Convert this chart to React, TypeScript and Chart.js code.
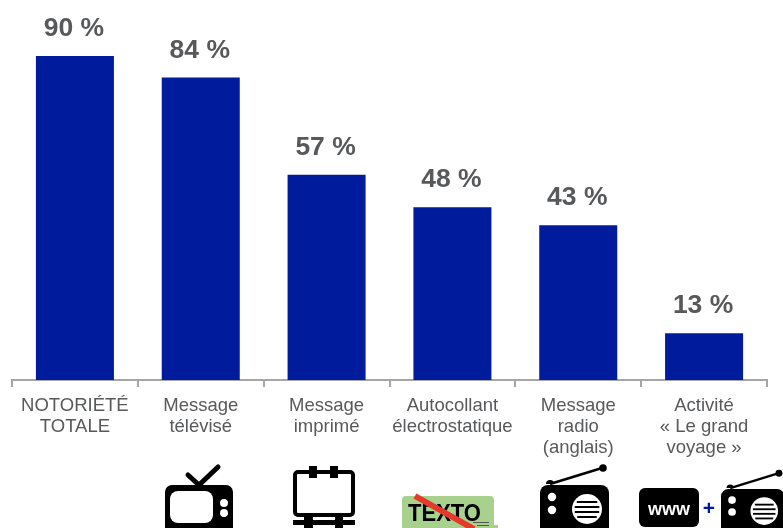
import React, { useEffect, useRef } from "react";
import { Chart, registerables } from "chart.js";

Chart.register(...registerables);

const categories: string[][] = [
  ["NOTORIÉTÉ", "TOTALE"],
  ["Message", "télévisé"],
  ["Message", "imprimé"],
  ["Autocollant", "électrostatique"],
  ["Message", "radio", "(anglais)"],
  ["Activité", "« Le grand", "voyage »"],
];
const values: number[] = [90, 84, 57, 48, 43, 13];
const valueSuffix = " %";

const BAR = "#001C9C";
const TEXT = "#58595B";
const FONT = "'Liberation Sans', Arial, sans-serif";

function rr(c: CanvasRenderingContext2D, x: number, y: number, w: number, h: number, r: number) {
  c.beginPath();
  c.roundRect(x, y, w, h, r);
}

function drawRadio(c: CanvasRenderingContext2D, x: number, y: number, s: number) {
  c.save();
  c.translate(x, y);
  c.scale(s, s);
  c.fillStyle = "#000";
  c.strokeStyle = "#000";
  rr(c, 0, 0, 69, 60, 8);
  c.fill();
  c.lineWidth = 2.6;
  c.beginPath();
  c.moveTo(10, -1);
  c.lineTo(62, -17);
  c.stroke();
  c.beginPath();
  c.arc(63, -17, 3.8, 0, Math.PI * 2);
  c.fill();
  c.beginPath();
  c.arc(10, -1, 4, Math.PI, Math.PI * 2);
  c.fill();
  c.fillStyle = "#fff";
  for (const ky of [12, 25]) {
    c.beginPath();
    c.arc(12, ky, 4.2, 0, Math.PI * 2);
    c.fill();
  }
  c.beginPath();
  c.arc(47, 24, 15, 0, Math.PI * 2);
  c.fill();
  c.fillStyle = "#000";
  for (const dy of [-8, -3, 2, 7]) {
    const half = Math.sqrt(Math.max(0, 12.5 * 12.5 - (dy + 0.8) * (dy + 0.8)));
    c.fillRect(47 - half, 24 + dy, half * 2, 2);
  }
  c.restore();
}

const iconsPlugin = {
  id: "icons",
  afterDraw(chart: any) {
    const c: CanvasRenderingContext2D = chart.ctx;
    c.save();
    // TV
    c.fillStyle = "#000";
    rr(c, 165, 485, 68, 60, 7);
    c.fill();
    c.fillStyle = "#fff";
    rr(c, 170, 491, 43, 32, 8);
    c.fill();
    c.beginPath();
    c.arc(224, 503, 4, 0, Math.PI * 2);
    c.arc(224, 513, 4, 0, Math.PI * 2);
    c.fill();
    c.strokeStyle = "#000";
    c.lineWidth = 5;
    c.lineCap = "round";
    c.beginPath();
    c.moveTo(188, 475);
    c.lineTo(199, 485);
    c.lineTo(218, 467);
    c.stroke();
    c.lineCap = "butt";
    // Billboard
    c.lineWidth = 4;
    rr(c, 295, 472, 58, 43, 3);
    c.stroke();
    c.fillStyle = "#000";
    c.fillRect(309, 466, 8, 12);
    c.fillRect(330, 466, 8, 12);
    c.fillRect(293, 520, 62, 5);
    c.fillRect(304, 516, 9, 12);
    c.fillRect(335, 516, 8, 12);
    // Sticker
    c.fillStyle = "#A9D18E";
    c.beginPath();
    c.roundRect(402, 496, 92, 36, 4);
    c.fill();
    c.fillRect(490, 525, 8, 3);
    c.fillStyle = "#000";
    c.font = `bold 23px ${FONT}`;
    c.textAlign = "left";
    c.textBaseline = "alphabetic";
    c.fillText("TEXTO", 408, 521, 73);
    c.strokeStyle = "#E5392B";
    c.lineWidth = 6;
    c.beginPath();
    c.moveTo(415, 496);
    c.lineTo(474, 529);
    c.stroke();
    c.fillStyle = "#555";
    c.fillRect(473, 522, 16, 1);
    c.fillRect(477, 525, 12, 1);
    // Radios
    drawRadio(c, 540, 485, 1);
    c.fillStyle = "#000";
    rr(c, 639, 488, 60, 39, 6);
    c.fill();
    c.fillStyle = "#fff";
    c.font = `bold 18px ${FONT}`;
    c.textAlign = "center";
    c.textBaseline = "middle";
    c.fillText("www", 669, 510);
    c.fillStyle = BAR;
    c.font = `bold 21px ${FONT}`;
    c.fillText("+", 709, 509);
    drawRadio(c, 721, 489, 0.92);
    c.restore();
  },
};

const valueLabels = {
  id: "valueLabels",
  afterDatasetsDraw(chart: any) {
    const c: CanvasRenderingContext2D = chart.ctx;
    const meta = chart.getDatasetMeta(0);
    c.save();
    c.fillStyle = TEXT;
    c.font = `bold 26.5px ${FONT}`;
    c.textAlign = "center";
    c.textBaseline = "alphabetic";
    meta.data.forEach((bar: any, i: number) => {
      c.fillText(values[i] + valueSuffix, bar.x - 1, bar.y - 20);
    });
    c.restore();
  },
};

export default function App() {
  const ref = useRef<HTMLCanvasElement>(null);
  useEffect(() => {
    document.body.style.margin = "0";
    const chart = new Chart(ref.current!, {
      type: "bar",
      data: {
        labels: categories,
        datasets: [{ data: values, backgroundColor: BAR, barPercentage: 0.62, categoryPercentage: 1 }],
      },
      options: {
        animation: false,
        responsive: false,
        devicePixelRatio: 1,
        layout: { padding: { left: 12, right: 16, top: 20, bottom: 0 } },
        plugins: { legend: { display: false }, tooltip: { enabled: false } },
        scales: {
          x: {
            afterFit: (s: any) => { s.height = 148; },
            border: { color: "#A6A6A6", width: 2 },
            grid: { display: true, drawOnChartArea: false, drawTicks: true, tickLength: 7, color: "#A6A6A6", lineWidth: 2 },
            ticks: {
              color: TEXT,
              autoSkip: false,
              maxRotation: 0,
              padding: 8,
              font: { family: FONT, size: 18.5, lineHeight: 1.15 },
            },
          },
          y: { display: false, min: 0, max: 100 },
        },
      },
      plugins: [valueLabels, iconsPlugin],
    } as any);
    return () => chart.destroy();
  }, []);
  return <canvas ref={ref} width={783} height={528} style={{ display: "block", width: 783, height: 528 }} />;
}
